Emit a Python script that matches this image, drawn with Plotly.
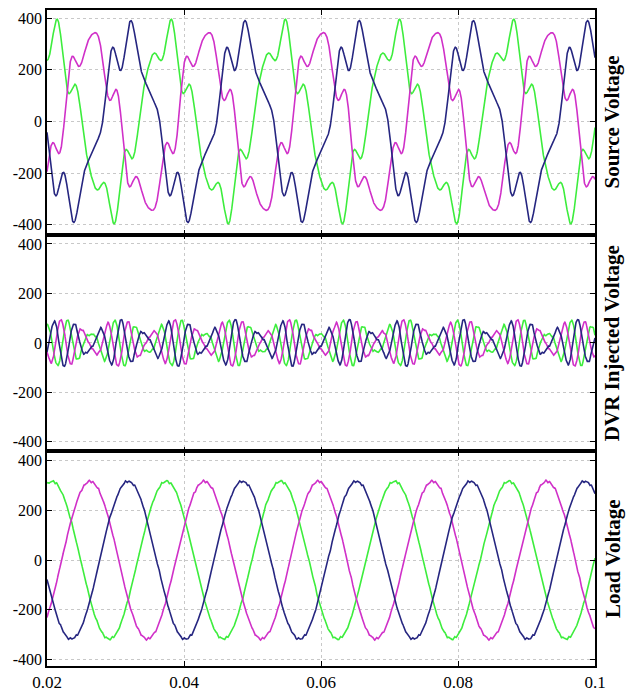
import numpy as np
import plotly.graph_objects as go
from plotly.subplots import make_subplots

# ---- data ----
freq_hz = 60.0
phase_names = ["Phase a", "Phase b", "Phase c"]
phase_colors = ["#d030c8", "#262680", "#3ded3d"]      # magenta, blue, green
fund_amp = [317, 317, 317]                              # peak of fundamental (V)
fund_phase_deg = [208, 328, 88]                         # phase of fundamental
h5_amp = [65, 65, 65]                                   # 5th harmonic in source
h5_phase_deg = [35, -85, 155]
h7_amp = [30, 30, 30]                                   # 7th harmonic in source
h7_phase_deg = [-85, 155, 35]
ripple_order = [23, 37]                                 # small switching ripple
ripple_amp = [3, 2.5]
ripple_phase_deg = [[10, 130, 250], [40, 280, 160]]
x_ticks = [0.02, 0.04, 0.06, 0.08, 0.1]
x_tick_text = ["0.02", "0.04", "0.06", "0.08", "0.1"]
y_ticks = [-400, -200, 0, 200, 400]
y_tick_text = ["-400", "-200", "0", "200", "400"]
panel_titles = ["Source Voltage", "DVR Injected Voltage", "Load Voltage"]

w = 2 * np.pi * freq_hz
t = np.linspace(0.02, 0.1, 4001)


def comp(amp, ph, h):
    return amp * np.cos(h * w * t - np.radians(ph))


fig = make_subplots(rows=3, cols=1, shared_xaxes=True, vertical_spacing=0)
order = [2, 0, 1]
for k in order:
    load = comp(fund_amp[k], fund_phase_deg[k], 1)
    for j, h in enumerate(ripple_order):
        load = load + comp(ripple_amp[j], ripple_phase_deg[j][k], h)
    src = comp(fund_amp[k], fund_phase_deg[k], 1) + comp(h5_amp[k], h5_phase_deg[k], 5) \
        + comp(h7_amp[k], h7_phase_deg[k], 7)
    dvr = load - src
    for row, y in ((1, src), (2, dvr), (3, load)):
        fig.add_trace(go.Scatter(x=t, y=y, mode="lines", name=phase_names[k],
                                 line=dict(color=phase_colors[k], width=1.6)), row, 1)

H = 700
top, bot = 8, 23
area = H - top - bot
edges = [8, 237, 458, 677]
doms = []
for i in range(3):
    y0 = 1 - (edges[i + 1] - top) / area
    y1 = 1 - (edges[i] - top) / area
    doms.append([y0, y1])
yranges = [[-438, 432], [-438, 438], [-426, 438]]

font = dict(family="Liberation Serif", size=16, color="black")
for i in range(3):
    fig.update_yaxes(row=i + 1, col=1, domain=doms[i], range=yranges[i],
                     tickvals=y_ticks, ticktext=y_tick_text, ticks="inside", ticklen=5,
                     tickcolor="black", showline=True, linecolor="black", linewidth=1.5,
                     mirror="ticks", showgrid=True, gridcolor="#c8c8c8", griddash="dot",
                     gridwidth=1, zeroline=False, tickfont=font)
    fig.update_xaxes(row=i + 1, col=1, range=[0.02, 0.1], tickvals=x_ticks,
                     ticktext=x_tick_text, ticks="inside", ticklen=5, tickcolor="black",
                     showline=True, linecolor="black", linewidth=1.5, mirror="ticks",
                     showgrid=True, gridcolor="#c8c8c8", griddash="dot", gridwidth=1,
                     zeroline=False, tickfont=dict(family="Liberation Serif", size=17,
                                                   color="black"),
                     showticklabels=(i == 2))
    fig.add_annotation(text="<b>" + panel_titles[i] + "</b>", xref="paper", yref="paper",
                       x=1.0315, y=(doms[i][0] + doms[i][1]) / 2, xanchor="center",
                       yanchor="middle", textangle=-90, showarrow=False,
                       font=dict(family="Liberation Serif", size=21, color="black"))

fig.update_layout(width=626, height=700, margin=dict(l=47, r=31, t=top, b=bot),
                  plot_bgcolor="white", paper_bgcolor="white", showlegend=False)
fig.write_html("out.html", config={"displayModeBar": False},
               post_script="document.body.style.margin='0';document.body.style.overflow='hidden';")
